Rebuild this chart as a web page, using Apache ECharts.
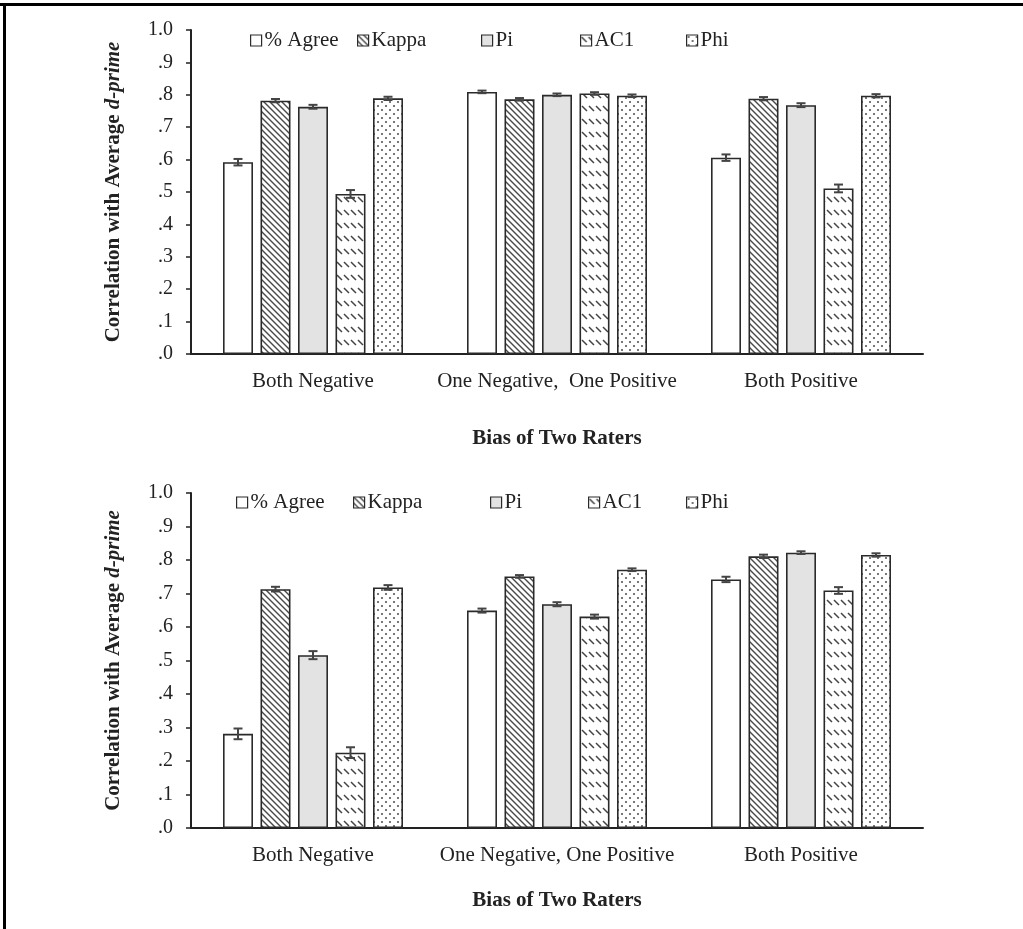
<!DOCTYPE html>
<html><head><meta charset="utf-8">
<script src="https://cdn.jsdelivr.net/npm/echarts@6/dist/echarts.min.js"></script>
<style>html,body{margin:0;padding:0;background:#fff}#c{width:1023px;height:929px}</style>
</head><body><div id="c"></div>
<script>
// ---------- DATA ----------
const categoriesTop = ['Both Negative', 'One Negative,  One Positive', 'Both Positive'];
const categoriesBot = ['Both Negative', 'One Negative, One Positive', 'Both Positive'];
const seriesNames = ['% Agree', 'Kappa', 'Pi', 'AC1', 'Phi'];
const yTicks = ['.0', '.1', '.2', '.3', '.4', '.5', '.6', '.7', '.8', '.9', '1.0'];

const agreeTop = [0.592, 0.809, 0.606];
const kappaTop = [0.782, 0.786, 0.788];
const piTop    = [0.763, 0.800, 0.768];
const ac1Top   = [0.494, 0.804, 0.511];
const phiTop   = [0.789, 0.797, 0.797];
const agreeErrTop = [0.010, 0.004, 0.010];
const kappaErrTop = [0.005, 0.004, 0.005];
const piErrTop    = [0.006, 0.004, 0.006];
const ac1ErrTop   = [0.012, 0.004, 0.012];
const phiErrTop   = [0.005, 0.004, 0.005];

const agreeBot = [0.281, 0.649, 0.742];
const kappaBot = [0.713, 0.751, 0.811];
const piBot    = [0.516, 0.668, 0.822];
const ac1Bot   = [0.225, 0.631, 0.709];
const phiBot   = [0.718, 0.771, 0.815];
const agreeErrBot = [0.016, 0.006, 0.008];
const kappaErrBot = [0.007, 0.004, 0.005];
const piErrBot    = [0.012, 0.006, 0.004];
const ac1ErrBot   = [0.016, 0.006, 0.010];
const phiErrBot   = [0.007, 0.004, 0.005];

// ---------- PATTERNS ----------
function mk(w, h, draw) {
  const c = document.createElement('canvas'); c.width = w; c.height = h;
  const g = c.getContext('2d'); g.fillStyle = '#fff'; g.fillRect(0, 0, w, h); draw(g); return c;
}
const hatch = mk(6, 6, g => {
  g.strokeStyle = '#4a4a4a'; g.lineWidth = 1.4;
  [-6, 0, 6].forEach(dx => { g.beginPath(); g.moveTo(dx - 1, -1); g.lineTo(dx + 7, 7); g.stroke(); });
});
const dashHatch = mk(7, 13, g => {
  g.strokeStyle = '#444'; g.lineWidth = 1.5;
  [-7, 0, 7].forEach(dx => { g.beginPath(); g.moveTo(dx + 1, 2); g.lineTo(dx + 6, 7); g.stroke(); });
});
const dots = mk(8, 8, g => {
  g.fillStyle = '#4a4a4a';
  g.beginPath(); g.arc(2, 2, 1, 0, Math.PI * 2); g.fill();
  g.beginPath(); g.arc(6, 6, 1, 0, Math.PI * 2); g.fill();
});
const fills = ['#ffffff', { image: hatch, repeat: 'repeat' }, '#e3e3e3', { image: dashHatch, repeat: 'repeat' }, { image: dots, repeat: 'repeat' }];

const FONT = 'Liberation Serif';
const FS = 21, FS_TICK = 20;
const BAR_W = 30, BAR_GAP = 0.25;

function errSeries(idx, vals, errs, gi) {
  return {
    type: 'custom', xAxisIndex: gi, yAxisIndex: gi, z: 5, silent: true,
    data: vals.map((v, i) => [i, v - errs[i], v + errs[i]]),
    renderItem(params, api) {
      const pitch = BAR_W * (1 + BAR_GAP);
      const off = (idx - 2) * pitch;
      const lo = api.coord([api.value(0), api.value(1)]);
      const hi = api.coord([api.value(0), api.value(2)]);
      const x = lo[0] + off, cw = 4.5;
      const st = { stroke: '#444', lineWidth: 2 };
      return { type: 'group', children: [
        { type: 'line', shape: { x1: x, y1: lo[1], x2: x, y2: hi[1] }, style: st },
        { type: 'line', shape: { x1: x - cw, y1: lo[1], x2: x + cw, y2: lo[1] }, style: st },
        { type: 'line', shape: { x1: x - cw, y1: hi[1], x2: x + cw, y2: hi[1] }, style: st }
      ] };
    }
  };
}

const topVals = [agreeTop, kappaTop, piTop, ac1Top, phiTop];
const topErrs = [agreeErrTop, kappaErrTop, piErrTop, ac1ErrTop, phiErrTop];
const botVals = [agreeBot, kappaBot, piBot, ac1Bot, phiBot];
const botErrs = [agreeErrBot, kappaErrBot, piErrBot, ac1ErrBot, phiErrBot];

const series = [];
[[topVals, topErrs], [botVals, botErrs]].forEach(([vals, errs], gi) => {
  vals.forEach((v, i) => {
    series.push({
      name: seriesNames[i], type: 'bar', xAxisIndex: gi, yAxisIndex: gi,
      data: v, barWidth: BAR_W, barGap: (BAR_GAP * 100) + '%',
      itemStyle: { color: fills[i], borderColor: '#2a2a2a', borderWidth: 1.6 },
      emphasis: { disabled: true }
    });
  });
  vals.forEach((v, i) => series.push(errSeries(i, v, errs[i], gi)));
});

const grids = [
  { left: 191, top: 30, width: 732, height: 324 },
  { left: 191, top: 493, width: 732, height: 335 }
];
const xNameGap = [74, 62];

const xAxes = [categoriesTop, categoriesBot].map((cats, gi) => ({
  type: 'category', gridIndex: gi, data: cats,
  axisLine: { lineStyle: { color: '#222', width: 2 } },
  axisTick: { show: false },
  axisLabel: { fontFamily: FONT, fontSize: FS, color: '#222', margin: 17, interval: 0 },
  name: 'Bias of Two Raters', nameLocation: 'middle', nameGap: xNameGap[gi],
  nameTextStyle: { fontFamily: FONT, fontSize: FS, fontWeight: 'bold', color: '#222' }
}));
const yAxes = [0, 1].map(gi => ({
  type: 'value', gridIndex: gi, min: 0, max: 1, interval: 0.1,
  axisLine: { show: true, lineStyle: { color: '#222', width: 2 } },
  axisTick: { show: true, length: 5, lineStyle: { color: '#222', width: 1.5 } },
  splitLine: { show: false },
  axisLabel: { fontFamily: FONT, fontSize: FS_TICK, color: '#222', margin: 18,
    formatter: v => yTicks[Math.round(v * 10)] },
  name: '{b|Correlation with Average }{i|d-prime}', nameLocation: 'middle', nameGap: 67, nameRotate: 90,
  nameTextStyle: { rich: {
    b: { fontFamily: FONT, fontSize: FS, fontWeight: 'bold', color: '#222' },
    i: { fontFamily: FONT, fontSize: FS, fontWeight: 'bold', fontStyle: 'italic', color: '#222' } } }
}));

const legendPos = [
  [250, 357, 481, 580, 686],
  [236, 353, 490, 588, 686]
];
const legendTop = [25, 487];
const legends = [];
legendPos.forEach((xs, gi) => xs.forEach((x, i) => legends.push({
  left: x - 5, top: legendTop[gi], data: [seriesNames[i]], icon: 'rect', itemWidth: 11, itemHeight: 11, itemGap: 0,
  selectedMode: false, textStyle: { fontFamily: FONT, fontSize: FS, color: '#222', padding: [0, 0, 0, -2] },
  itemStyle: { borderColor: '#2a2a2a', borderWidth: 1.2 }
})));

const chart = echarts.init(document.getElementById('c'), null, { renderer: 'canvas' });
chart.setOption({
  backgroundColor: '#fff', animation: false,
  grid: grids, xAxis: xAxes, yAxis: yAxes, legend: legends, series,
  graphic: [
    { type: 'line', shape: { x1: 0, y1: 4.5, x2: 1023, y2: 4.5 }, style: { stroke: '#000', lineWidth: 3 } },
    { type: 'line', shape: { x1: 4.5, y1: 4, x2: 4.5, y2: 929 }, style: { stroke: '#000', lineWidth: 3 } }
  ]
});
</script></body></html>
